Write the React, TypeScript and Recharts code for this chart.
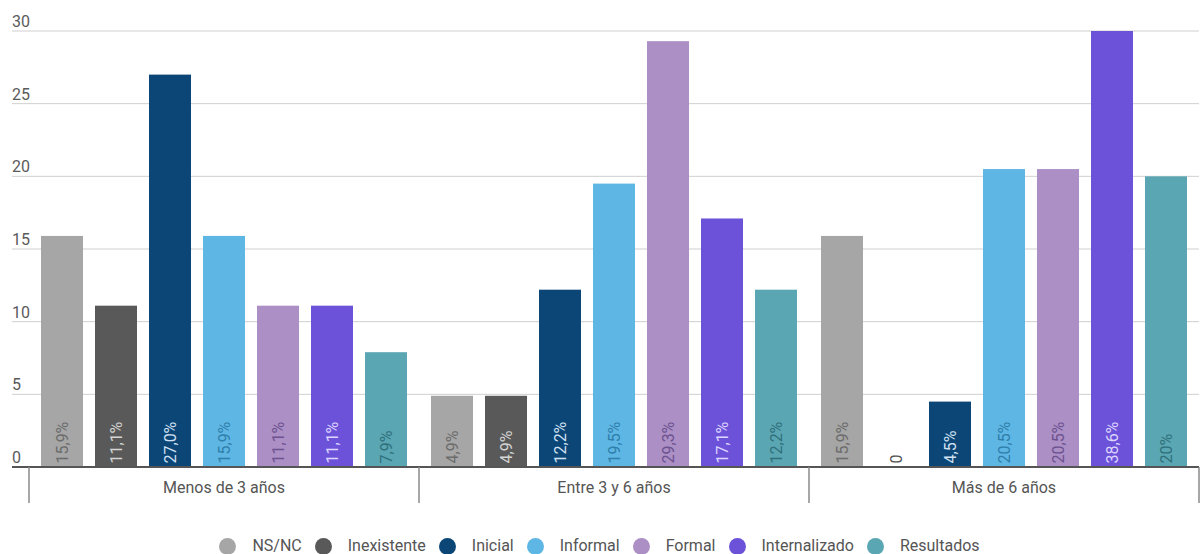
import React from "react";
import { BarChart, Bar, XAxis, YAxis, CartesianGrid, Legend } from "recharts";

// Categories (years of the organisation) and series
const categories = ["Menos de 3 años", "Entre 3 y 6 años", "Más de 6 años"];
const seriesNames = ["NS/NC", "Inexistente", "Inicial", "Informal", "Formal", "Internalizado", "Resultados"];

// Percent values per series, one per category
const nsnc = [15.9, 4.9, 15.9];
const inexistente = [11.1, 4.9, 0];
const inicial = [27.0, 12.2, 4.5];
const informal = [15.9, 19.5, 20.5];
const formal = [11.1, 29.3, 20.5];
const internalizado = [11.1, 17.1, 38.6];
const resultados = [7.9, 12.2, 20];

// Value labels as printed on the bars
const nsncLabels = ["15,9%", "4,9%", "15,9%"];
const inexistenteLabels = ["11,1%", "4,9%", "0"];
const inicialLabels = ["27,0%", "12,2%", "4,5%"];
const informalLabels = ["15,9%", "19,5%", "20,5%"];
const formalLabels = ["11,1%", "29,3%", "20,5%"];
const internalizadoLabels = ["11,1%", "17,1%", "38,6%"];
const resultadosLabels = ["7,9%", "12,2%", "20%"];

const yTicks = [0, 5, 10, 15, 20, 25, 30];

const seriesValues = [nsnc, inexistente, inicial, informal, formal, internalizado, resultados];
const seriesLabels = [nsncLabels, inexistenteLabels, inicialLabels, informalLabels, formalLabels, internalizadoLabels, resultadosLabels];
const barColors = ["#a6a6a6", "#595959", "#0c4677", "#5eb6e4", "#ab8fc5", "#6c52d9", "#5ba6b3"];
const labelColors = ["#6c6c6c", "#d4d4d4", "#cfe0f2", "#2f7fab", "#6d5290", "#ddd5ff", "#2f707b"];

const data = categories.map((name, i) => {
  const row: Record<string, string | number> = { name };
  seriesNames.forEach((s, k) => {
    row[s] = seriesValues[k][i];
  });
  return row;
});

const WIDTH = 1202;
const HEIGHT = 554;
const YAXIS_W = 12;
const MARGIN = { top: 31, right: 3, bottom: 0, left: 0 };
const PLOT_LEFT = MARGIN.left + YAXIS_W;
const PAD_LEFT = 17;
const LEGEND_H = 16;
const XAXIS_H = 71;
const AXIS_Y = HEIGHT - MARGIN.bottom - LEGEND_H - XAXIS_H;
const BAND = (WIDTH - PLOT_LEFT - MARGIN.right - PAD_LEFT) / categories.length;
const FONT = "Roboto, 'Noto Sans', sans-serif";

const YTick = (props: any) => {
  const { y, payload } = props;
  return (
    <text x={PLOT_LEFT} y={y - 4} fontSize={16} fontFamily={FONT} fill="#5a5a5a" textAnchor="start">
      {payload.value}
    </text>
  );
};

const XTick = (props: any) => {
  const { x, payload, index } = props;
  const left = x - BAND / 2;
  const right = x + BAND / 2;
  return (
    <g>
      <line x1={left} x2={left} y1={AXIS_Y} y2={AXIS_Y + 36} stroke="#8a8a8a" strokeWidth={1.5} />
      {index === categories.length - 1 && (
        <line x1={right} x2={right} y1={AXIS_Y} y2={AXIS_Y + 36} stroke="#8a8a8a" strokeWidth={1.5} />
      )}
      <text x={x} y={AXIS_Y + 26} fontSize={16} fontFamily={FONT} fill="#555" textAnchor="middle">
        {payload.value}
      </text>
    </g>
  );
};

// Bar body plus its rotated value label sitting at the bottom of the bar
const makeBarShape = (k: number) => (props: any) => {
  const { x, y, width, height, index } = props;
  const text = seriesLabels[k][index];
  const cx = x + width / 2;
  const bottom = y + height - 3.5;
  const isZero = seriesValues[k][index] === 0;
  return (
    <g>
      {height > 0 && <rect x={x} y={y} width={width} height={height} fill={barColors[k]} />}
      <text
        x={cx}
        y={bottom}
        transform={`rotate(-90 ${cx} ${bottom})`}
        textAnchor="start"
        dominantBaseline="central"
        fontSize={16}
        fontFamily={FONT}
        fill={isZero ? "#555" : labelColors[k]}
      >
        {text}
      </text>
    </g>
  );
};

const LegendContent = () => (
  <div
    style={{
      height: LEGEND_H,
      display: "flex",
      justifyContent: "center",
      alignItems: "center",
      fontFamily: FONT,
      fontSize: 16,
      color: "#555",
    }}
  >
    {seriesNames.map((name, i) => (
      <div key={name} style={{ display: "flex", alignItems: "center", marginRight: i === seriesNames.length - 1 ? 0 : 13 }}>
        <span
          style={{
            display: "inline-block",
            width: 17,
            height: 17,
            borderRadius: "50%",
            background: barColors[i],
            marginRight: 16,
          }}
        />
        <span style={{ lineHeight: "16px" }}>{name}</span>
      </div>
    ))}
  </div>
);

export default function App() {
  return (
    <div style={{ position: "absolute", left: 0, top: 0, width: WIDTH, height: HEIGHT, background: "#fff" }}>
      <BarChart width={WIDTH} height={HEIGHT} data={data} margin={MARGIN} barCategoryGap={12} barGap={12}>
        <CartesianGrid vertical={false} stroke="#cfcfcf" strokeWidth={1} />
        <XAxis
          dataKey="name"
          height={XAXIS_H}
          padding={{ left: PAD_LEFT, right: 0 }}
          axisLine={{ stroke: "#555", strokeWidth: 2 }}
          tickLine={false}
          tick={<XTick />}
          interval={0}
        />
        <YAxis
          width={YAXIS_W}
          domain={[0, 30]}
          ticks={yTicks}
          allowDataOverflow
          axisLine={false}
          tickLine={false}
          tick={<YTick />}
          interval={0}
        />
        <Legend verticalAlign="bottom" height={LEGEND_H} content={<LegendContent />} />
        {seriesNames.map((s, k) => (
          <Bar key={s} dataKey={s} name={s} fill={barColors[k]} isAnimationActive={false} shape={makeBarShape(k)} />
        ))}
      </BarChart>
    </div>
  );
}
